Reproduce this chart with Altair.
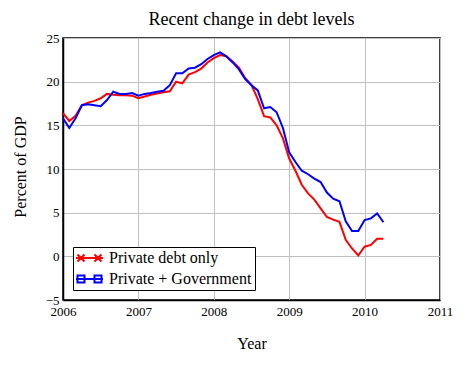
import altair as alt
import pandas as pd

# Monthly observations, Jan 2006 .. Apr 2010
months = [
    "2006-01", "2006-02", "2006-03", "2006-04", "2006-05", "2006-06",
    "2006-07", "2006-08", "2006-09", "2006-10", "2006-11", "2006-12",
    "2007-01", "2007-02", "2007-03", "2007-04", "2007-05", "2007-06",
    "2007-07", "2007-08", "2007-09", "2007-10", "2007-11", "2007-12",
    "2008-01", "2008-02", "2008-03", "2008-04", "2008-05", "2008-06",
    "2008-07", "2008-08", "2008-09", "2008-10", "2008-11", "2008-12",
    "2009-01", "2009-02", "2009-03", "2009-04", "2009-05", "2009-06",
    "2009-07", "2009-08", "2009-09", "2009-10", "2009-11", "2009-12",
    "2010-01", "2010-02", "2010-03", "2010-04",
]

private_only = [
    16.4, 15.5, 16.1, 17.3, 17.6, 17.8, 18.1, 18.6, 18.5, 18.45, 18.45, 18.4,
    18.1, 18.3, 18.5, 18.65, 18.8, 18.9, 20.0, 19.8, 20.8, 21.1, 21.5, 22.2,
    22.7, 23.05, 22.9, 22.3, 21.6, 20.4, 19.6, 18.0, 16.05, 15.9, 15.0, 13.5,
    11.2, 9.8, 8.2, 7.2, 6.5, 5.5, 4.5, 4.2, 3.95, 1.9, 0.9, 0.1,
    1.1, 1.3, 2.0, 2.0,
]

private_gov = [
    15.8, 14.7, 15.8, 17.3, 17.4, 17.3, 17.2, 17.9, 18.85, 18.6, 18.6, 18.7,
    18.4, 18.6, 18.7, 18.85, 18.95, 19.6, 20.95, 20.95, 21.5, 21.6, 22.0, 22.6,
    23.05, 23.35, 22.9, 22.2, 21.4, 20.3, 19.6, 19.0, 16.95, 17.1, 16.5, 14.7,
    11.9, 10.8, 9.8, 9.4, 8.9, 8.5, 7.3, 6.6, 6.3, 4.0, 2.9, 2.9,
    4.15, 4.35, 4.9, 3.9,
]

series_names = ["Private debt only", "Private + Government"]
series_colors = ["#ff0000", "#0000ff"]
x_ticks = [2006, 2007, 2008, 2009, 2010, 2011]
y_ticks = [-5, 0, 5, 10, 15, 20, 25]

def to_year(m):
    y, mo = m.split("-")
    return int(y) + (int(mo) - 1) / 12.0

rows = []
for name, vals in zip(series_names, [private_only, private_gov]):
    for m, v in zip(months, vals):
        rows.append({"year": to_year(m), "value": v, "series": name})
df = pd.DataFrame(rows)

# legend symbols: a line segment with two markers
red_sym = ("M-1.6,0H3.8"
           "M-1.3,-0.7L0.1,0.7M-1.3,0.7L0.1,-0.7"
           "M2.1,-0.7L3.5,0.7M2.1,0.7L3.5,-0.7")
blue_sym = ("M-1.6,0H3.8"
            "M-1.3,-0.7H0.1V0.7H-1.3Z"
            "M2.1,-0.7H3.5V0.7H2.1Z")

FONT = "Liberation Serif"

x_enc = alt.X("year:Q",
              scale=alt.Scale(domain=[2006, 2011], nice=False, zero=False),
              axis=alt.Axis(values=x_ticks, format="d", title="Year",
                            titleY=48, titleBaseline="alphabetic",
                            labelPadding=5, labelFlush=False))
y_enc = alt.Y("value:Q",
              scale=alt.Scale(domain=[-5, 25], nice=False, zero=False),
              axis=alt.Axis(values=y_ticks, title="Percent of GDP",
                            titleX=-38, titleY=128.5,
                            titleAngle=-90, titleAlign="center",
                            titleBaseline="alphabetic",
                            labelPadding=4, labelFlush=False))

legend = alt.Legend(title=None, orient="none", legendX=10, legendY=209,
                    fillColor="white", strokeColor="black", padding=3,
                    symbolSize=100, symbolStrokeWidth=2, symbolOpacity=1,
                    labelFont=FONT, labelFontSize=16, labelColor="black",
                    labelOffset=17, rowPadding=5, cornerRadius=0)

color_scale = alt.Scale(domain=series_names, range=series_colors)

lines = alt.Chart(df).mark_line(strokeWidth=2).encode(
    x=x_enc, y=y_enc,
    color=alt.Color("series:N", scale=color_scale, legend=legend),
)

points = alt.Chart(df).mark_point(filled=False, opacity=0).encode(
    x=x_enc, y=y_enc,
    color=alt.Color("series:N", scale=color_scale, legend=legend),
    shape=alt.Shape("series:N",
                    scale=alt.Scale(domain=series_names, range=[red_sym, blue_sym]),
                    legend=legend),
)

chart = alt.layer(lines, points).properties(
    width=377, height=262,
    autosize="none",
    padding={"left": 55, "top": 30, "right": 14, "bottom": 57},
    title=alt.TitleParams("Recent change in debt levels", font=FONT,
                          fontSize=18, fontWeight="normal", color="black",
                          anchor="middle", offset=3),
).configure(
    background="white"
).configure_view(
    stroke="black", strokeWidth=1.5
).configure_axis(
    labelFont=FONT, labelFontSize=13, labelColor="black",
    titleFont=FONT, titleFontSize=16, titleFontWeight="normal", titleColor="black",
    ticks=False, grid=True, gridColor="#c0c0c0", gridWidth=1,
    domainColor="black", domainWidth=1.5,
)

chart.save("out.html", embed_options={"renderer": "svg", "actions": False})
